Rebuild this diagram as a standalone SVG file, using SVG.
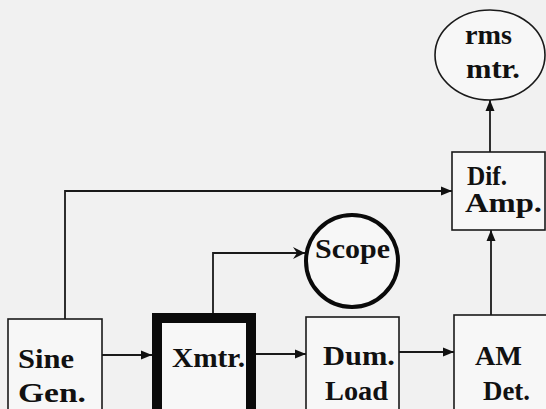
<svg xmlns="http://www.w3.org/2000/svg" width="546" height="409" viewBox="0 0 546 409">
<style>
.box{fill:#f7f7f7;stroke:#1a1a1a;stroke-width:1.6}
.thick{fill:#f7f7f7;stroke:#0a0a0a;stroke-width:10}
.circ{fill:#f7f7f7;stroke:#1a1a1a;stroke-width:1.6}
.circb{fill:#f7f7f7;stroke:#0a0a0a;stroke-width:4}
.lbl{font-family:"Liberation Serif","Times New Roman",serif;font-weight:bold;font-size:27px;fill:#111}
.wire{fill:none;stroke:#1a1a1a;stroke-width:1.8}
</style>
<defs>
<marker id="ah" markerUnits="userSpaceOnUse" markerWidth="12" markerHeight="10" refX="11" refY="5" orient="auto">
<path d="M0,0.5 L11,5 L0,9.5 z" fill="#111"/>
</marker>
<marker id="ao" markerUnits="userSpaceOnUse" markerWidth="14" markerHeight="12" refX="12" refY="6" orient="auto">
<path d="M0,0 L12,6 L0,12 L4,6 z" fill="#111"/>
</marker>
</defs>
<rect x="0" y="0" width="546" height="409" fill="#f1f1f1"/>
<g id="connectors">
<path class="wire" d="M65,319 V191 H452" marker-end="url(#ah)"/>
<path class="wire" d="M213,313 V253 H305" marker-end="url(#ao)"/>
<path class="wire" d="M102,355 H152" marker-end="url(#ah)"/>
<path class="wire" d="M256,354 H306" marker-end="url(#ah)"/>
<path class="wire" d="M399,352 H454" marker-end="url(#ah)"/>
<path class="wire" d="M491,315 V230" marker-end="url(#ah)"/>
<path class="wire" d="M490,152 V100" marker-end="url(#ah)"/>
</g>
<g id="sine">
<rect class="box" x="8" y="319" width="94" height="100"/>
<text class="lbl" x="18" y="368" textLength="56" lengthAdjust="spacingAndGlyphs">Sine</text>
<text class="lbl" x="18" y="402" textLength="68" lengthAdjust="spacingAndGlyphs">Gen.</text>
</g>
<g id="xmtr">
<rect class="thick" x="157" y="318" width="94" height="100"/>
<text class="lbl" x="172" y="367" textLength="73" lengthAdjust="spacingAndGlyphs">Xmtr.</text>
</g>
<g id="dum">
<rect class="box" x="306" y="317" width="93" height="100"/>
<text class="lbl" x="323" y="365" textLength="72" lengthAdjust="spacingAndGlyphs">Dum.</text>
<text class="lbl" x="325" y="400" textLength="63" lengthAdjust="spacingAndGlyphs">Load</text>
</g>
<g id="am">
<rect class="box" x="454" y="315" width="100" height="100"/>
<text class="lbl" x="475" y="365" textLength="47" lengthAdjust="spacingAndGlyphs">AM</text>
<text class="lbl" x="483" y="400" textLength="47" lengthAdjust="spacingAndGlyphs">Det.</text>
</g>
<g id="difamp">
<rect class="box" x="452" y="152" width="93" height="78"/>
<text class="lbl" x="467" y="185" textLength="40" lengthAdjust="spacingAndGlyphs">Dif.</text>
<text class="lbl" x="465" y="212" textLength="77" lengthAdjust="spacingAndGlyphs">Amp.</text>
</g>
<g id="rms">
<ellipse class="circ" cx="490" cy="55" rx="55" ry="45"/>
<text class="lbl" x="465" y="44" textLength="47" lengthAdjust="spacingAndGlyphs">rms</text>
<text class="lbl" x="466" y="78" textLength="54" lengthAdjust="spacingAndGlyphs">mtr.</text>
</g>
<g id="scope">
<circle class="circb" cx="352" cy="261" r="46"/>
<text class="lbl" x="315" y="258" textLength="75" lengthAdjust="spacingAndGlyphs">Scope</text>
</g>
</svg>
